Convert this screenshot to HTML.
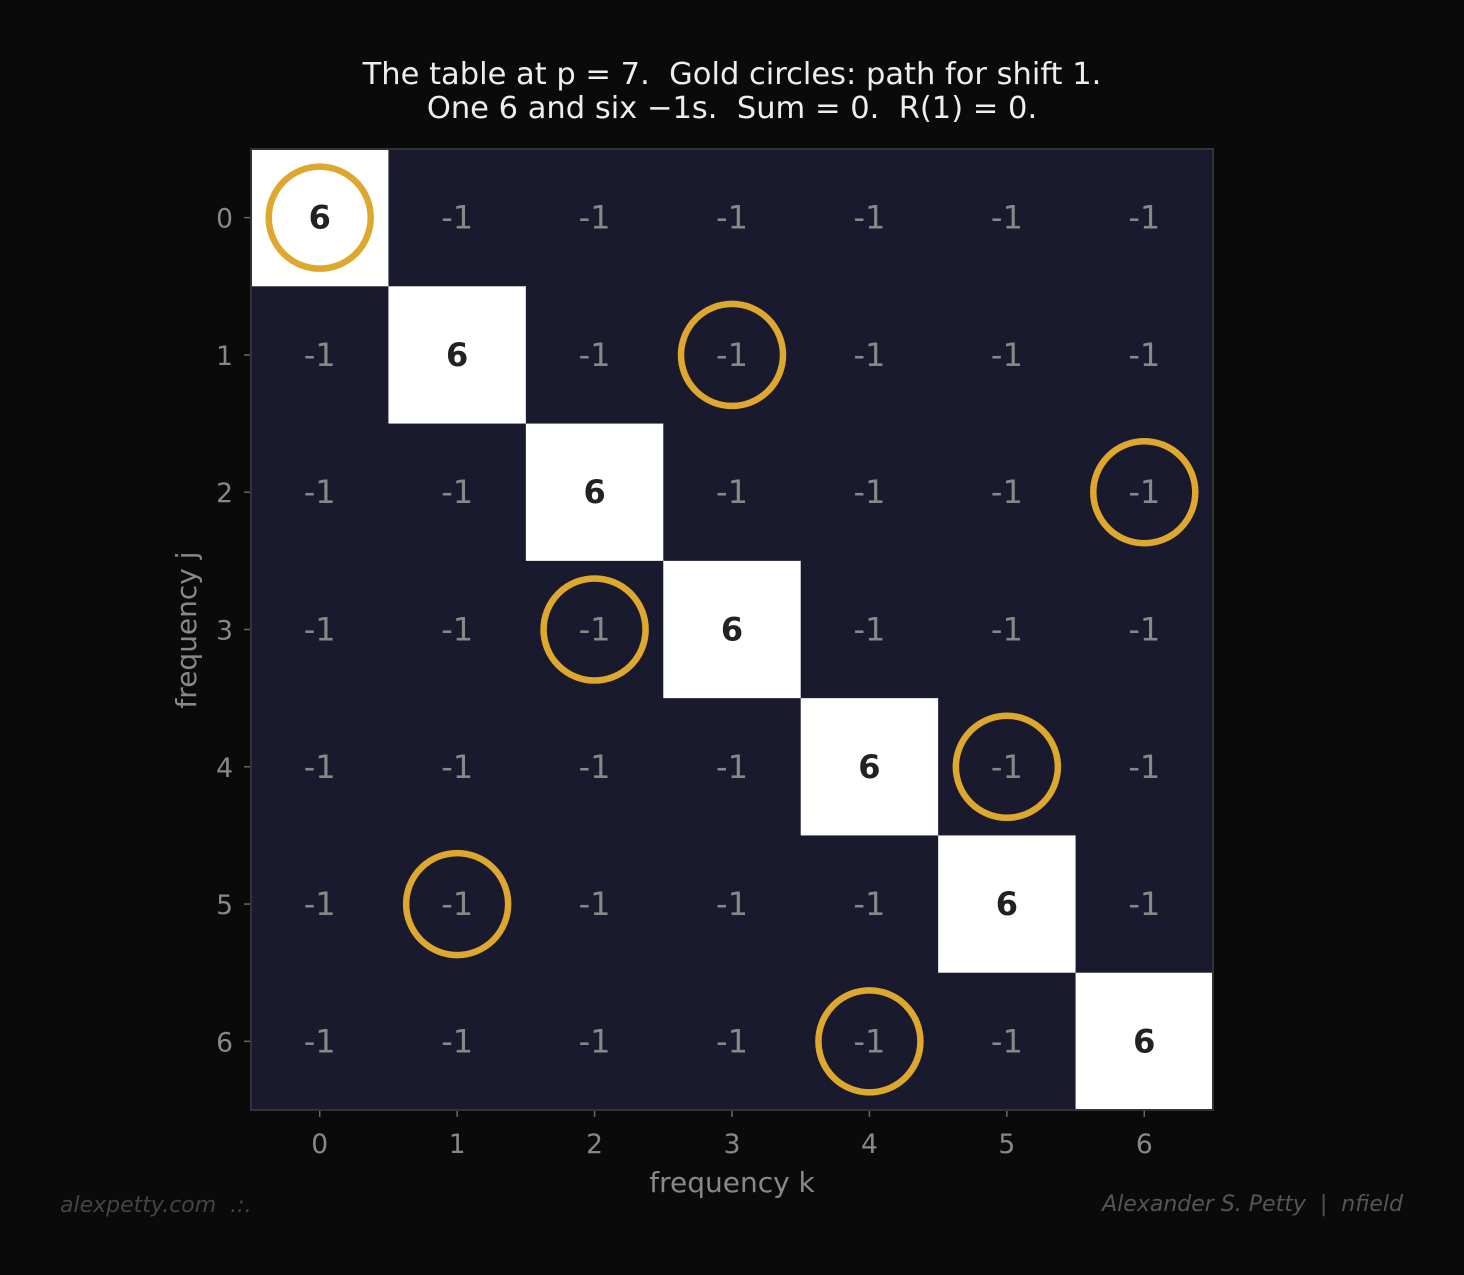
<!DOCTYPE html>
<html><head><meta charset="utf-8"><style>
html,body{margin:0;padding:0;background:#0a0a0a;}
svg{display:block;font-family:"DejaVu Sans","Liberation Sans",sans-serif;}
text{white-space:pre;}
</style></head><body>
<svg id="chart" width="1464" height="1275" viewBox="0 0 1464 1275" xml:space="preserve">
<rect width="1464" height="1275" fill="#0a0a0a"/>
<text x="732" y="84" fill="#eeeeee" font-size="30.5" text-anchor="middle">The table at p = 7.  Gold circles: path for shift 1.</text>
<text x="732" y="118" fill="#eeeeee" font-size="30.5" text-anchor="middle">One 6 and six −1s.  Sum = 0.  R(1) = 0.</text>
<g id="cells"></g>
<g id="circles"></g>
<g id="ticks"></g>
<rect x="251" y="149" width="962" height="961" fill="none" stroke="#333" stroke-width="2"/>
<text x="732" y="1192" fill="#888" font-size="28" text-anchor="middle">frequency k</text>
<text transform="translate(196,630) rotate(-90)" fill="#888" font-size="28" text-anchor="middle">frequency j</text>
<text x="60" y="1212" fill="#444" font-size="22" font-style="italic">alexpetty.com  .:.</text>
<text x="1403" y="1211" fill="#555" font-size="22" font-style="italic" text-anchor="end">Alexander S. Petty  |  nfield</text>
</svg>
<script>
const p = 7;
const rowLabels = ["0","1","2","3","4","5","6"];
const colLabels = ["0","1","2","3","4","5","6"];
const values = [
 [6,-1,-1,-1,-1,-1,-1],
 [-1,6,-1,-1,-1,-1,-1],
 [-1,-1,6,-1,-1,-1,-1],
 [-1,-1,-1,6,-1,-1,-1],
 [-1,-1,-1,-1,6,-1,-1],
 [-1,-1,-1,-1,-1,6,-1],
 [-1,-1,-1,-1,-1,-1,6]
];
const pathRows = [0,1,2,3,4,5,6];
const pathCols = [0,3,6,2,5,1,4];

const NS = "http://www.w3.org/2000/svg";
const X0 = 251, Y0 = 149, W = 962, H = 961;
const cw = W / colLabels.length, ch = H / rowLabels.length;
const xs = k => X0 + k * cw;
const ys = j => Y0 + j * ch;
function mk(tag, attrs, parent){const e=document.createElementNS(NS,tag);for(const a in attrs)e.setAttribute(a,attrs[a]);parent.appendChild(e);return e;}
const cells = document.getElementById('cells');
values.forEach((row,j)=>row.forEach((v,k)=>{
  const hi = v > 0;
  const r = mk('rect',{x:xs(k),y:ys(j),width:cw+0.5,height:ch+0.5,fill:hi?'#ffffff':'#1a1a2e'},cells);
  
  
  const t = mk('text',{x:xs(k)+cw/2,y:ys(j)+ch/2+11,'text-anchor':'middle','font-size':32,fill:hi?'#222':'#888','font-weight':hi?'bold':'normal'},cells);
  t.textContent = String(v);
  
  
}));
const circ = document.getElementById('circles');
pathRows.forEach((j,i)=>{
  const c = mk('circle',{cx:xs(pathCols[i])+cw/2,cy:ys(j)+ch/2,r:51,fill:'none',stroke:'#dea82f','stroke-width':6.5},circ);
  
  
});
const tk = document.getElementById('ticks');
colLabels.forEach((l,k)=>{
  const x = xs(k)+cw/2;
  const ln = mk('line',{x1:x,x2:x,y1:Y0+H,y2:Y0+H+7,stroke:'#666','stroke-width':1.5},tk);
  
  
  const t = mk('text',{x:x,y:1153,'text-anchor':'middle','font-size':26.5,fill:'#888'},tk);
  t.textContent = l;
  
  
});
rowLabels.forEach((l,j)=>{
  const y = ys(j)+ch/2;
  const ln = mk('line',{x1:X0-7,x2:X0,y1:y,y2:y,stroke:'#666','stroke-width':1.5},tk);
  
  
  const t = mk('text',{x:233,y:y+10,'text-anchor':'end','font-size':26.5,fill:'#888'},tk);
  t.textContent = l;
  
  
});
</script>
</body></html>
